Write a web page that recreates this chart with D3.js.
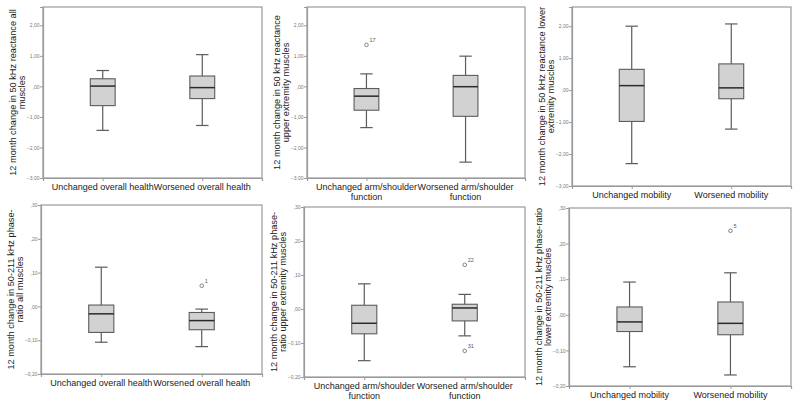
<!DOCTYPE html>
<html><head><meta charset="utf-8">
<script src="https://cdn.jsdelivr.net/npm/d3@7"></script>
<style>
html,body{margin:0;padding:0;background:#fff;}
svg{display:block;font-family:"Liberation Sans",Arial,sans-serif;}
</style></head>
<body>
<svg id="chart" width="800" height="410"></svg>
<script>
// ---------- DATA ----------
const healthCategories = ["Unchanged overall health", "Worsened overall health"];
const armCategories = ["Unchanged arm/shoulder\nfunction", "Worsened arm/shoulder\nfunction"];
const mobilityCategories = ["Unchanged mobility", "Worsened mobility"];

const reactanceTicks = [-3, -2, -1, 0, 1, 2];
const phaseTicks = [-0.2, -0.1, 0, 0.1, 0.2, 0.3];

// stats per group: [lower whisker, Q1, median, Q3, upper whisker]
const reactanceAllStats = [[-1.44, -0.63, 0.01, 0.25, 0.52], [-1.28, -0.40, -0.04, 0.34, 1.04]];
const reactanceUpperStats = [[-1.35, -0.78, -0.32, -0.07, 0.41], [-2.48, -0.98, -0.01, 0.36, 0.99]];
const reactanceLowerStats = [[-2.30, -0.98, 0.14, 0.65, 2.00], [-1.22, -0.27, 0.07, 0.82, 2.07]];
const phaseAllStats = [[-0.106, -0.077, -0.022, 0.004, 0.116], [-0.119, -0.069, -0.042, -0.018, -0.008]];
const phaseUpperStats = [[-0.152, -0.073, -0.042, 0.011, 0.074], [-0.079, -0.035, 0.003, 0.014, 0.043]];
const phaseLowerStats = [[-0.146, -0.047, -0.020, 0.022, 0.092], [-0.169, -0.056, -0.024, 0.036, 0.118]];

// outliers: [group index, value, case label]
const reactanceAllOutliers = [];
const reactanceUpperOutliers = [[0, 1.36, "17"]];
const reactanceLowerOutliers = [];
const phaseAllOutliers = [[1, 0.061, "1"]];
const phaseUpperOutliers = [[1, 0.130, "22"], [1, -0.123, "31"]];
const phaseLowerOutliers = [[1, 0.236, "5"]];

const reactanceDomain = [-3, 2.6];
const phaseDomain = [-0.2, 0.3];

const yTitles = [
  "12 month change in 50 kHz reactance all\nmuscles",
  "12 month change in 50 kHz reactance\nupper extremity muscles",
  "12 month change in 50 kHz reactance lower\nextremity muscles",
  "12 month change in 50-211 kHz phase-\nratio all muscles",
  "12 month change in 50-211 kHz phase-\nratio upper extremity muscles",
  "12 month change in 50-211 kHz phase-ratio\nlower extremity muscles"
];

// ---------- LAYOUT ----------
const frames = [
  {l: 43, r: 262, t: 7, b: 178},
  {l: 307, r: 525, t: 7, b: 178},
  {l: 572, r: 791, t: 7, b: 186},
  {l: 41, r: 262, t: 205, b: 374},
  {l: 304, r: 525, t: 207, b: 377},
  {l: 569, r: 791, t: 208, b: 386}
];

const panels = [
  {cats: healthCategories, stats: reactanceAllStats, out: reactanceAllOutliers, dom: reactanceDomain, ticks: reactanceTicks},
  {cats: armCategories, stats: reactanceUpperStats, out: reactanceUpperOutliers, dom: reactanceDomain, ticks: reactanceTicks},
  {cats: mobilityCategories, stats: reactanceLowerStats, out: reactanceLowerOutliers, dom: reactanceDomain, ticks: reactanceTicks},
  {cats: healthCategories, stats: phaseAllStats, out: phaseAllOutliers, dom: phaseDomain, ticks: phaseTicks},
  {cats: armCategories, stats: phaseUpperStats, out: phaseUpperOutliers, dom: phaseDomain, ticks: phaseTicks},
  {cats: mobilityCategories, stats: phaseLowerStats, out: phaseLowerOutliers, dom: phaseDomain, ticks: phaseTicks}
];

function spssFmt(v) {
  let s = d3.format(".2f")(Math.abs(v) < 1e-9 ? 0 : v).replace(".", ",");
  s = s.replace(/^0,/, ",").replace(/^-0,/, "-,");
  return s;
}

const svg = d3.select("#chart");
const frameColor = "#9a9a9a";
const boxStroke = "#5c5c5c";

panels.forEach((p, i) => {
  const f = frames[i];
  const g = svg.append("g");
  const y = d3.scaleLinear().domain(p.dom).range([f.b, f.t]);
  const x = d3.scalePoint().domain(p.cats).range([f.l, f.r]).padding(0.6);
  const step = x.step();
  const bw = step * 0.25;
  const cap = bw * 0.5;

  // frame
  g.append("rect").attr("x", f.l).attr("y", f.t).attr("width", f.r - f.l).attr("height", f.b - f.t)
    .attr("fill", "none").attr("stroke", frameColor).attr("stroke-width", 1.2);

  // y axis
  const ya = d3.axisLeft(y).tickValues(p.ticks).tickSize(3).tickFormat(spssFmt);
  const yg = g.append("g").attr("transform", `translate(${f.l},0)`).call(ya);
  yg.select(".domain").attr("stroke", frameColor).attr("stroke-width", 1.2);
  yg.selectAll(".tick line").attr("stroke", frameColor);
  yg.selectAll(".tick text").attr("font-size", 5).attr("fill", "#777").attr("x", -3.5)
    .attr("font-family", "Liberation Sans, Arial, sans-serif");

  // x axis (ticks only, labels custom multi-line)
  const xa = d3.axisBottom(x).tickSize(3).tickFormat("");
  const xg = g.append("g").attr("transform", `translate(0,${f.b})`).call(xa);
  xg.select(".domain").attr("stroke", frameColor).attr("stroke-width", 1.2);
  xg.selectAll(".tick line").attr("stroke", frameColor);

  p.cats.forEach(c => {
    const lines = c.split("\n");
    const t = g.append("text").attr("x", x(c)).attr("y", f.b + 12)
      .attr("text-anchor", "middle").attr("font-size", 9).attr("fill", "#222");
    lines.forEach((ln, k) => t.append("tspan").attr("x", x(c)).attr("dy", k === 0 ? 0 : 10).text(ln));
  });

  // y title
  const cy = (f.t + f.b) / 2;
  const tl = yTitles[i].split("\n");
  const yt = g.append("text").attr("transform", `translate(${f.l - 18},${cy}) rotate(-90)`)
    .attr("text-anchor", "middle").attr("font-size", 9.2).attr("fill", "#222");
  tl.forEach((ln, k) => yt.append("tspan").attr("x", 0).attr("y", (k - (tl.length - 1)) * 9.5).text(ln));

  // boxes
  p.stats.forEach((s, gi) => {
    const cx = x(p.cats[gi]);
    const [lo, q1, med, q3, hi] = s;
    g.append("line").attr("x1", cx).attr("x2", cx).attr("y1", y(hi)).attr("y2", y(q3))
      .attr("stroke", boxStroke).attr("stroke-width", 1.2);
    g.append("line").attr("x1", cx).attr("x2", cx).attr("y1", y(q1)).attr("y2", y(lo))
      .attr("stroke", boxStroke).attr("stroke-width", 1.2);
    g.append("line").attr("x1", cx - cap / 2).attr("x2", cx + cap / 2).attr("y1", y(hi)).attr("y2", y(hi))
      .attr("stroke", boxStroke).attr("stroke-width", 1.2);
    g.append("line").attr("x1", cx - cap / 2).attr("x2", cx + cap / 2).attr("y1", y(lo)).attr("y2", y(lo))
      .attr("stroke", boxStroke).attr("stroke-width", 1.2);
    g.append("rect").attr("x", cx - bw / 2).attr("y", y(q3)).attr("width", bw).attr("height", y(q1) - y(q3))
      .attr("fill", "#d2d2d2").attr("stroke", boxStroke).attr("stroke-width", 1.1);
    g.append("line").attr("x1", cx - bw / 2).attr("x2", cx + bw / 2).attr("y1", y(med)).attr("y2", y(med))
      .attr("stroke", "#2a2a2a").attr("stroke-width", 1.5);
  });

  // outliers
  p.out.forEach(o => {
    const cx = x(p.cats[o[0]]);
    g.append("circle").attr("cx", cx).attr("cy", y(o[1])).attr("r", 1.8)
      .attr("fill", "none").attr("stroke", "#666").attr("stroke-width", 0.8);
    g.append("text").attr("x", cx + 3).attr("y", y(o[1]) - 2.5).attr("font-size", 5.5)
      .attr("fill", "#555").text(o[2]);
  });
});
</script>
</body></html>
